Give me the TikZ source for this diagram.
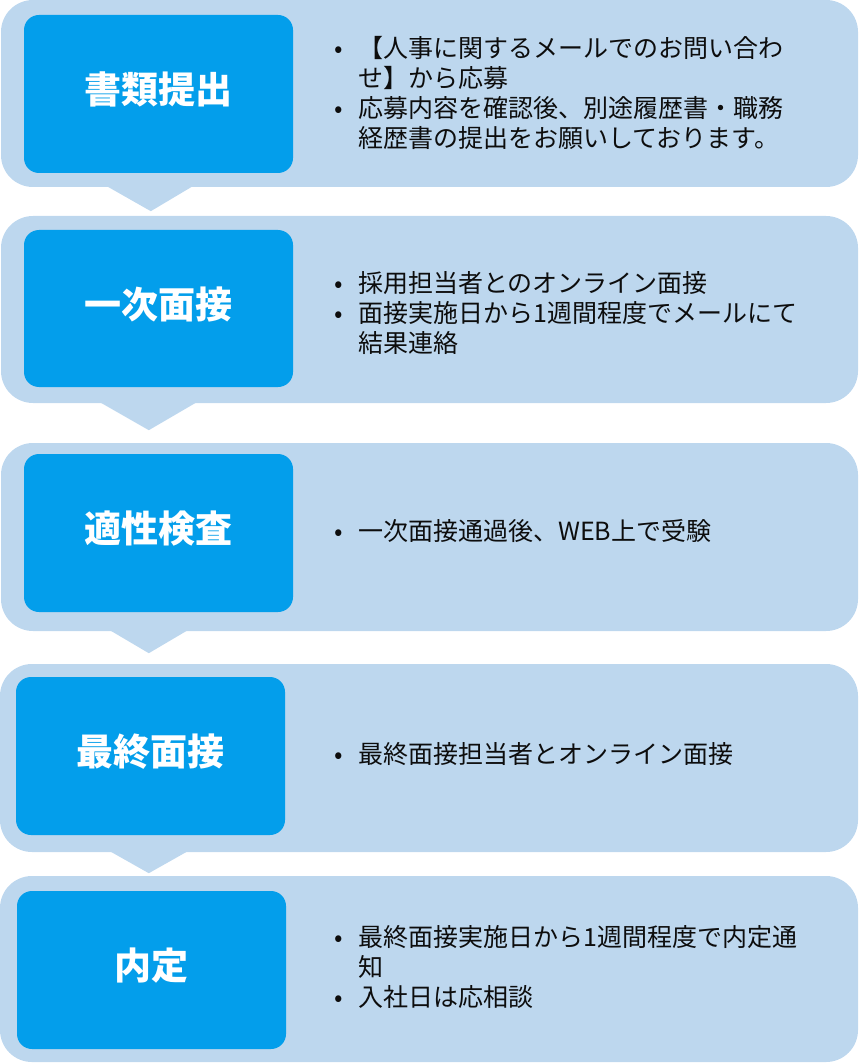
\documentclass[tikz,border=0pt]{standalone}
\usepackage{fontspec}
\usetikzlibrary{calc}
\newfontfamily\jpfont{Noto Sans CJK JP}
\definecolor{panelc}{HTML}{BDD7EE}
\definecolor{boxc}{HTML}{039EEB}
\definecolor{txtc}{HTML}{0D0D0D}
\newcommand{\bulmark}{\makebox[25pt][l]{\hspace{1pt}•}}
\newcommand{\indmark}{\hspace*{25pt}}
\begin{document}
\begin{tikzpicture}[x=1pt,y=-1pt,
  panel/.style={fill=panelc, rounded corners=32pt, inner sep=0pt, minimum height=187pt},
  stepbox/.style={fill=boxc, rounded corners=15pt, inner sep=0pt, minimum width=269pt, minimum height=158pt},
  ttl/.style={inner sep=0pt, text=white, font=\jpfont\bfseries\fontsize{37pt}{40pt}\selectfont},
  txt/.style={inner sep=0pt, anchor=west, align=left, text=txtc, font=\jpfont\fontsize{25pt}{30pt}\selectfont},
  chev/.style={fill=panelc}]
\useasboundingbox (0,0) rectangle (860,1064);
% panels
\node[panel, minimum width=857pt] (p1) at (429.5,93.5) {};
\node[panel, minimum width=857pt] (p2) at (429.5,309.5) {};
\node[panel, minimum width=857pt, minimum height=188pt] (p3) at (429.5,537) {};
\node[panel, minimum width=858pt, minimum height=188pt] (p4) at (429,758) {};
\node[panel, minimum width=858pt, minimum height=186pt] (p5) at (429,969) {};
% chevrons between panels
\fill[chev] ($(p1.south west)+(106,-1)$) -- ($(p1.south west)+(150,24)$) -- ($(p1.south west)+(192,-1)$) -- cycle;
\fill[chev] ($(p2.south west)+(99,-1)$) -- ($(p2.south west)+(148,27)$) -- ($(p2.south west)+(196,-1)$) -- cycle;
\fill[chev] ($(p3.south west)+(109,-1)$) -- ($(p3.south west)+(148,22)$) -- ($(p3.south west)+(187,-1)$) -- cycle;
\fill[chev] ($(p4.south west)+(110,-1)$) -- ($(p4.south west)+(149,21)$) -- ($(p4.south west)+(188,-1)$) -- cycle;
% step boxes
\node[stepbox] (b1) at (158.5,94) {};
\node[stepbox, minimum height=157pt] (b2) at (158.5,308.5) {};
\node[stepbox] (b3) at (158.5,533) {};
\node[stepbox] (b4) at (150.5,756) {};
\node[stepbox] (b5) at (151.5,970) {};
% titles
\node[ttl] (h1) at ($(b1)+(0,-4.5)$) {書類提出};
\node[ttl] (h2) at ($(b2)+(0,-4.5)$) {一次面接};
\node[ttl] (h3) at ($(b3)+(0,-4.5)$) {適性検査};
\node[ttl] (h4) at ($(b4)+(0,-4.5)$) {最終面接};
\node[ttl] (h5) at ($(b5)+(0,-4.5)$) {内定};
% descriptions
\node[txt] (t1) at (333,92.5) {\bulmark【人事に関するメールでのお問い合わ\\\indmark せ】から応募\\\bulmark 応募内容を確認後、別途履歴書・職務\\\indmark 経歴書の提出をお願いしております。};
\node[txt] (t2) at (333,313) {\bulmark 採用担当者とのオンライン面接\\\bulmark 面接実施日から1週間程度でメールにて\\\indmark 結果連絡};
\node[txt] (t3) at (333,531) {\bulmark 一次面接通過後、WEB上で受験};
\node[txt] (t4) at (333,754) {\bulmark 最終面接担当者とオンライン面接};
\node[txt] (t5) at (333,967) {\bulmark 最終面接実施日から1週間程度で内定通\\\indmark 知\\\bulmark 入社日は応相談};
\end{tikzpicture}
\end{document}
